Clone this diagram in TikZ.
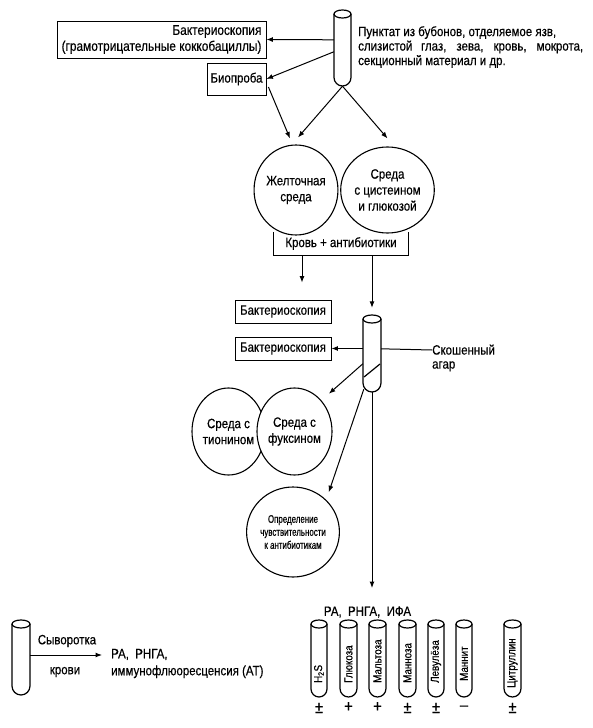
\documentclass[tikz,border=0pt]{standalone}
\usepackage{fontspec}
\setmainfont[FakeStretch=0.85,FakeBold=0.4]{Liberation Sans}
\newfontfamily\narrowfont[FakeStretch=0.72,FakeBold=0.4]{Liberation Sans}
\usetikzlibrary{shapes.geometric,calc,arrows.meta}

\tikzset{
  every node/.style={font=\fontsize{13.5}{16}\selectfont},
  txt/.style={inner sep=1pt},
  box/.style={draw, line width=0.85pt, inner sep=2pt},
  circ/.style={ellipse, draw, line width=1.1pt, fill=white, inner sep=0pt, align=center},
  arr/.style={-{Latex[length=6.5pt,width=5pt]}, line width=1pt},
  ln/.style={line width=1pt},
  tubeline/.style={line width=1.2pt},
  tubelabel/.style={rotate=90, anchor=west, inner sep=0pt, font=\fontsize{11.5}{12}\selectfont},
  sign/.style={inner sep=0pt, font=\fontsize{17}{17}\selectfont},
}

% name, x left, y top, x right, y bottom
\newcommand\mytube[5]{%
  \pgfmathsetmacro\tubr{(#4-#2)/2}%
  \node[inner sep=0pt, minimum width={#4pt-#2pt}, minimum height={#5pt-#3pt}] (#1) at ({(#2+#4)/2},{(#3+#5)/2}) {};
  \draw[tubeline, fill=white] (#2,#3+4) -- (#2,#5-\tubr) arc[start angle=180, end angle=0, radius=\tubr] -- (#4,#3+4);
  \draw[tubeline] ({(#2+#4)/2},#3+4) ellipse[x radius=\tubr, y radius=4];
}

\begin{document}
\begin{tikzpicture}[x=1pt,y=-1pt]
\useasboundingbox (0,0) rectangle (592,728);

% ---- top tube and source text
\mytube{t1}{334}{10}{351}{86}
\node[txt, anchor=north west, align=left, font=\fontsize{13.5}{14.5}\selectfont] (punkt) at (357,25)
  {Пунктат из бубонов, отделяемое язв,\\
   \makebox[225pt][s]{слизистой глаз, зева, кровь, мокрота,}\\
   секционный материал и др.};

\node[box, minimum width=209, minimum height=37, align=right, font=\fontsize{14}{16}\selectfont] (bak0) at (161.5,39.5)
  {Бактериоскопия\\(грамотрицательные коккобациллы)};
\node[box, minimum width=59, minimum height=32] (bio) at (236.5,79) {Биопроба};

\draw[arr] ($(t1.north west)+(0,30)$) -- (bak0.east);
\draw[arr] ($(t1.north west)+(0,42)$) -- (bio.east);

% ---- media
\node[circ, minimum width=78, minimum height=90] (zhel) at (296,190) {Желточная\\среда};
\node[circ, minimum width=71, minimum height=86] (cist) at (387.5,190) {Среда\\с цистеином\\и глюкозой};

\draw[arr] ($(bio.east)+(2,8)$) -- ($(zhel.north)+(-6,-6)$);
\draw[arr] (t1.south) -- ($(zhel.north)+(2,-7)$);
\draw[arr] (t1.south) -- ($(cist.north)+(0,-8)$);

\node[txt, minimum width=134, minimum height=23] (krov) at (341,243.5) {Кровь + антибиотики};
\draw[box] (krov.north west) -- (krov.south west) -- (krov.south east) -- (krov.north east);

% ---- second stage
\node[box, minimum width=96, minimum height=23] (bak1) at (283,311.5) {Бактериоскопия};
\node[box, minimum width=96, minimum height=23] (bak2) at (283,348.5) {Бактериоскопия};

\mytube{t2}{363}{315}{381}{392}
\draw[tubeline] (364,377) -- (380,364);

\coordinate (ax) at (302,0);
\draw[arr, shorten >=17pt] (krov.south -| ax) -- (bak1.north -| ax);
\draw[arr, shorten >=7pt] (krov.south -| t2.north) -- (t2.north);

\draw[arr] (t2.west |- bak2.east) -- (bak2.east);

\node[txt, anchor=west, align=left, font=\fontsize{13.5}{14}\selectfont] (skos) at (431,358) {Скошенный\\агар};
\draw[ln] ($(t2.north east)+(0,34)$) -- ($(skos.west)+(1,-8)$);

\node[circ, minimum width=73, minimum height=87] (tion) at (228.5,431.5) {Среда с\\тионином};
\node[circ, minimum width=75, minimum height=87] (fuks) at (294.5,431.5) {Среда с\\фуксином};

\node[circ, minimum width=76, minimum height=90, font=\narrowfont\fontsize{11}{13}\selectfont] (opred) at (293,532)
  {Определение\\чувствительности\\к антибиотикам};

\draw[arr, shorten >=10pt] ($(t2.north west)+(0,49)$) -- (fuks.north east);
\draw[arr, shorten >=8pt] ($(t2.south west)+(1,-3)$) -- (opred.north east);
\coordinate (vend) at (372,588);
\draw[arr] (t2.south) -- (vend);

% ---- serum
\mytube{t3}{12}{620}{30}{695}
\node[txt] (syv) at (67,641) {Сыворотка};
\node[txt] (krovi) at (65,672) {крови};
\node[txt, anchor=west, align=left, font=\fontsize{13.5}{17}\selectfont] (ratext) at (110,663.5)
  {РА,\ \ РНГА,\\иммунофлюоресценсия (АТ)};
\coordinate (sstart) at (t3.east |- 0,655);
\draw[arr] (sstart) -- ($(ratext.west)+(-8,-8.5)$);

% ---- biochemical tests
\node[txt] (rif) at (367.5,612) {РА,\ \ РНГА,\ \ ИФА};

\mytube{h2s}{311}{620}{327}{697}
\mytube{glu}{340}{620}{357}{697}
\mytube{mal}{369}{620}{386}{697}
\mytube{man}{399}{620}{416}{697}
\mytube{lev}{428}{620}{444}{697}
\mytube{mnt}{456}{620}{472}{697}
\mytube{cit}{504}{620}{521}{697}

\node[tubelabel] (lh2s) at (h2s.center |- 0,683) {H\textsubscript{2}S};
\node[tubelabel] (lglu) at (glu.center |- 0,683) {Глюкоза};
\node[tubelabel] (lmal) at (mal.center |- 0,683) {Мальтоза};
\node[tubelabel] (lman) at (man.center |- 0,683) {Манноза};
\node[tubelabel] (llev) at (lev.center |- 0,683) {Левулёза};
\node[tubelabel] (lmnt) at (mnt.center |- 0,681) {Маннит};
\node[tubelabel] (lcit) at (cit.center |- 0,688) {Цитруллин};

\node[sign] (s1) at (h2s.center |- 0,708) {±};
\node[sign] (s2) at (glu.center |- 0,707) {+};
\node[sign] (s3) at (mal.center |- 0,707) {+};
\node[sign] (s4) at (man.center |- 0,708) {±};
\node[sign] (s5) at (lev.center |- 0,708) {±};
\node[sign] (s6) at (mnt.center |- 0,708) {–};
\node[sign] (s7) at (cit.center |- 0,708) {±};
\end{tikzpicture}
\end{document}
